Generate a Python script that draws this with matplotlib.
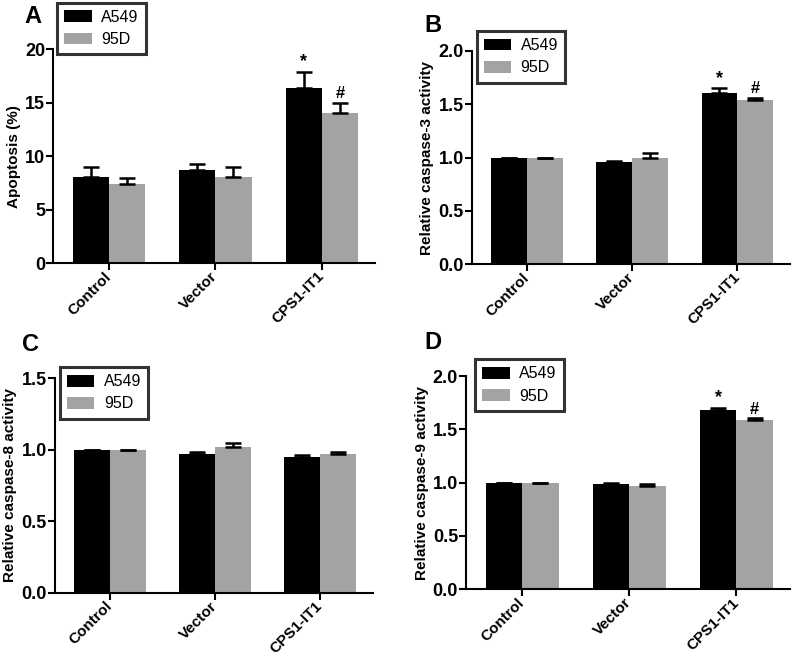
import matplotlib
matplotlib.use("Agg")
import matplotlib.pyplot as plt
import numpy as np

plt.rcParams['font.family'] = ['Liberation Sans', 'DejaVu Sans']
plt.rcParams['font.weight'] = 'bold'

categories = ["Control", "Vector", "CPS1-IT1"]
series = ["A549", "95D"]

# Panel A: Apoptosis (%)
a_a549 = [8.04, 8.72, 16.36]
a_a549_err = [0.99, 0.53, 1.55]
a_95d = [7.41, 8.04, 14.02]
a_95d_err = [0.53, 0.99, 1.00]

# Panel B: caspase-3
b_a549 = [1.0, 0.96, 1.60]
b_a549_err = [0.0, 0.01, 0.047]
b_95d = [1.0, 0.998, 1.538]
b_95d_err = [0.0, 0.042, 0.022]

# Panel C: caspase-8
c_a549 = [1.0, 0.968, 0.947]
c_a549_err = [0.0, 0.014, 0.016]
c_95d = [1.0, 1.022, 0.968]
c_95d_err = [0.0, 0.023, 0.016]

# Panel D: caspase-9
d_a549 = [1.0, 0.9875, 1.678]
d_a549_err = [0.0, 0.0125, 0.025]
d_95d = [1.0, 0.972, 1.5875]
d_95d_err = [0.0, 0.018, 0.016]

panels = [
    dict(label="A", rect=[0.0667, 0.6005, 0.4023, 0.3245], a=a_a549, ae=a_a549_err, g=a_95d, ge=a_95d_err,
         ylim=(0, 20), yticks=[0, 5, 10, 15, 20], ylabel="Apoptosis (%)", fmt="{:.0f}",
         lab_xy=(0.030, 0.992), leg=(0.0716, 0.996), sig=True),
    dict(label="B", rect=[0.590, 0.599, 0.3975, 0.324], a=b_a549, ae=b_a549_err, g=b_95d, ge=b_95d_err,
         ylim=(0, 2.0), yticks=[0, 0.5, 1.0, 1.5, 2.0], ylabel="Relative caspase-3 activity", fmt="{:.1f}",
         lab_xy=(0.530, 0.979), leg=(0.596, 0.953), sig=True),
    dict(label="C", rect=[0.069, 0.1006, 0.397, 0.3254], a=c_a549, ae=c_a549_err, g=c_95d, ge=c_95d_err,
         ylim=(0, 1.5), yticks=[0, 0.5, 1.0, 1.5], ylabel="Relative caspase-8 activity", fmt="{:.1f}",
         lab_xy=(0.027, 0.494), leg=(0.075, 0.443), sig=False),
    dict(label="D", rect=[0.583, 0.1058, 0.4045, 0.3236], a=d_a549, ae=d_a549_err, g=d_95d, ge=d_95d_err,
         ylim=(0, 2.0), yticks=[0, 0.5, 1.0, 1.5, 2.0], ylabel="Relative caspase-9 activity", fmt="{:.1f}",
         lab_xy=(0.530, 0.497), leg=(0.594, 0.455), sig=True),
]

fig = plt.figure(figsize=(8, 6.59), dpi=100)
x = np.arange(len(categories))
w = 0.34
black = "#000000"
gray = "#a3a3a3"

for p in panels:
    ax = fig.add_axes(p["rect"])
    b1 = ax.bar(x - w / 2, p["a"], w, color=black, label=series[0], zorder=2)
    b2 = ax.bar(x + w / 2, p["g"], w, color=gray, label=series[1], zorder=2)
    ax.errorbar(x - w / 2, p["a"], yerr=[np.zeros(3), p["ae"]], fmt="none", ecolor="k",
                elinewidth=1.8, capsize=6, capthick=1.8, zorder=3)
    ax.errorbar(x + w / 2, p["g"], yerr=[np.zeros(3), p["ge"]], fmt="none", ecolor="k",
                elinewidth=1.8, capsize=6, capthick=1.8, zorder=3)
    ax.set_xlim(-0.52, 2.5)
    ax.set_ylim(*p["ylim"])
    ax.set_yticks(p["yticks"])
    ax.set_yticklabels([p["fmt"].format(v) for v in p["yticks"]], fontsize=13, fontweight="bold")
    ax.set_xticks(x)
    ax.set_xticklabels(categories, rotation=45, ha="right", va="center", rotation_mode="anchor",
                       fontsize=11, fontweight="bold")
    ax.set_ylabel(p["ylabel"], fontsize=11, fontweight="bold", labelpad=3)
    for s in ["top", "right"]:
        ax.spines[s].set_visible(False)
    for s in ["left", "bottom"]:
        ax.spines[s].set_linewidth(1.5)
    ax.tick_params(axis="both", width=1.5, length=5, direction="out")
    ax.tick_params(axis="x", pad=3)
    ax.tick_params(axis="y", pad=1)
    if p["sig"]:
        top = p["ylim"][1]
        off = top * 0.008
        ax.text(x[2] - w / 2, p["a"][2] + p["ae"][2] + off, "*", ha="center", va="bottom",
                fontsize=13, fontweight="bold")
        ax.text(x[2] + w / 2, p["g"][2] + p["ge"][2] + off, "#", ha="center", va="bottom",
                fontsize=12, fontweight="bold")
    fig.text(p["lab_xy"][0], p["lab_xy"][1], p["label"], fontsize=17, fontweight="bold",
             ha="left", va="top")
    lx, ly = p["leg"]
    leg = fig.legend(handles=[b1, b2], labels=series, loc="upper left",
                     bbox_to_anchor=(lx, ly), borderaxespad=0, frameon=True, fancybox=False,
                     edgecolor="black", fontsize=11.5, handlelength=1.7, handleheight=0.75,
                     borderpad=0.45, labelspacing=0.45, handletextpad=0.6)
    leg.get_frame().set_linewidth(2.2)
    for t in leg.get_texts():
        t.set_fontweight("normal")

fig.savefig("out.png", dpi=100)
